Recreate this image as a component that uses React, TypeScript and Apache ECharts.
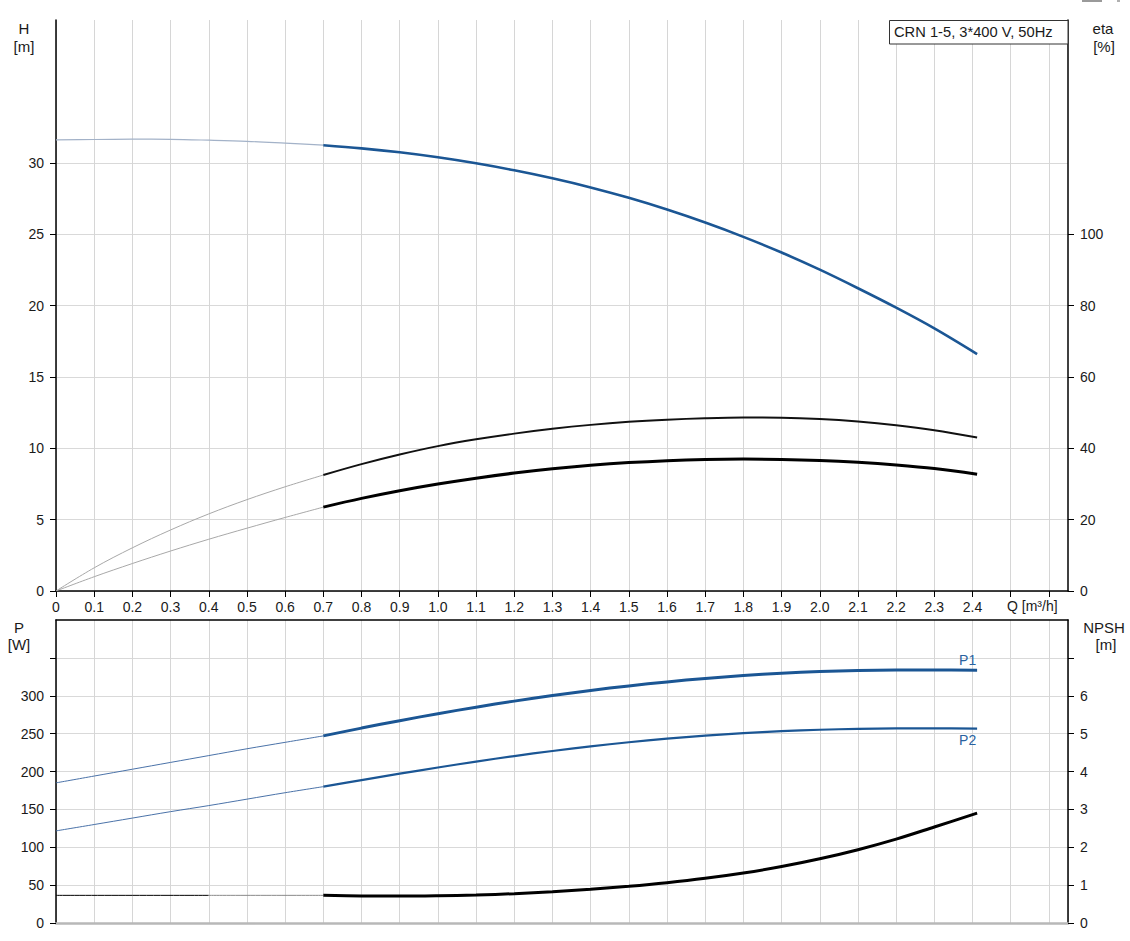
import React, { useEffect, useRef } from "react";
import * as echarts from "echarts";

// ---- data ----
const qLow = [0, 0.1, 0.2, 0.3, 0.4, 0.5, 0.6, 0.7];
const qHigh = [0.7, 0.8, 0.9, 1.0, 1.1, 1.2, 1.3, 1.4, 1.5, 1.6, 1.7, 1.8, 1.9, 2.0, 2.1, 2.2, 2.3, 2.412];

const hLow = [31.6, 31.63, 31.65, 31.64, 31.58, 31.5, 31.37, 31.23];
const hHigh = [31.23, 31.01, 30.73, 30.38, 29.96, 29.47, 28.91, 28.27, 27.54, 26.72, 25.81, 24.81, 23.71, 22.51, 21.21, 19.85, 18.4, 16.6];

const etaLow = [0, 6.5, 12.1, 17.1, 21.6, 25.6, 29.2, 32.5];
const etaHigh = [32.5, 35.55, 38.25, 40.6, 42.5, 44.1, 45.45, 46.55, 47.4, 48.0, 48.4, 48.6, 48.55, 48.2, 47.5, 46.45, 45.05, 43.0];

const eta2Low = [0, 4.0, 7.7, 11.2, 14.5, 17.6, 20.6, 23.5];
const eta2High = [23.5, 25.95, 28.1, 29.98, 31.62, 33.04, 34.24, 35.22, 35.98, 36.52, 36.85, 36.97, 36.88, 36.58, 36.05, 35.3, 34.3, 32.7];

const p1Low = [185, 194, 203, 212, 221, 230, 238.5, 247];
const p1High = [247, 257.3, 267.1, 276.3, 284.9, 292.9, 300.3, 307.0, 313.0, 318.3, 322.9, 326.7, 329.7, 331.9, 333.3, 334.0, 334.1, 333.7];

const p2Low = [121.6, 130, 138.5, 147, 155, 163.5, 172, 180];
const p2High = [180, 188.6, 197.1, 205.3, 213.1, 220.4, 227.1, 233.2, 238.6, 243.3, 247.3, 250.6, 253.2, 255.1, 256.3, 256.9, 257.0, 256.7];

const qNpshA = [0, 0.4];
const npshA = [0.73, 0.73];
const qNpshB = [0.4, 0.7];
const npshB = [0.73, 0.73];
const npshHigh = [0.73, 0.715, 0.71, 0.72, 0.74, 0.775, 0.825, 0.89, 0.97, 1.065, 1.18, 1.32, 1.49, 1.695, 1.935, 2.215, 2.535, 2.9];

const qTickLabels = ["0", "0.1", "0.2", "0.3", "0.4", "0.5", "0.6", "0.7", "0.8", "0.9", "1.0", "1.1", "1.2", "1.3", "1.4", "1.5", "1.6", "1.7", "1.8", "1.9", "2.0", "2.1", "2.2", "2.3", "2.4"];
const qTickMarks = [0, 0.1, 0.2, 0.3, 0.4, 0.5, 0.6, 0.7, 0.8, 0.9, 1.0, 1.1, 1.2, 1.3, 1.4, 1.5, 1.6, 1.7, 1.8, 1.9, 2.0, 2.1, 2.2, 2.3, 2.4, 2.5, 2.6];
const hTickLabels = [0, 5, 10, 15, 20, 25, 30];
const etaTickLabels = [0, 20, 40, 60, 80, 100];
const pTickLabels = [0, 50, 100, 150, 200, 250, 300];
const pTickMarks = [0, 50, 100, 150, 200, 250, 300, 350];
const npshTickLabels = [0, 1, 2, 3, 4, 5, 6];
const npshTickMarks = [0, 1, 2, 3, 4, 5, 6, 7];

const FONT = "'Liberation Sans', Arial, sans-serif";
const BLUE = "#1b5694";

function line(xs: number[], ys: number[], xi: number, yi: number, color: string, width: number, extra: any = {}) {
  return {
    type: "line",
    xAxisIndex: xi,
    yAxisIndex: yi,
    data: xs.map((x, i) => [x, ys[i]]),
    symbol: "none",
    showSymbol: false,
    smooth: 0.35,
    silent: true,
    lineStyle: { color, width },
    ...extra,
  };
}

export default function App() {
  const ref = useRef<HTMLDivElement>(null);
  useEffect(() => {
    if (!ref.current) return;
    const chart = echarts.init(ref.current, null, { renderer: "svg" });
    const labelStyle = { color: "#1a1a1a", fontSize: 14, fontFamily: FONT };
    const xBase = {
      type: "value",
      min: 0,
      max: 2.65,
      interval: 0.1,
    };
    const nameStyle = (text: string, x: number, y: number) => ({
      type: "text",
      x,
      y,
      style: { text, fill: "#1a1a1a", font: `15px ${FONT}`, align: "center", verticalAlign: "middle" },
    });
    const option: any = {
      animation: false,
      backgroundColor: "#ffffff",
      textStyle: { fontFamily: FONT },
      grid: [
        { left: 56, top: 20, width: 1012, height: 571 },
        { left: 56, top: 620, width: 1012, height: 303 },
      ],
      xAxis: [
        {
          ...xBase,
          gridIndex: 0,
          position: "bottom",
          axisLine: { show: true, onZero: false, lineStyle: { color: "#000", width: 1.5 } },
          axisTick: { show: true, length: 6, lineStyle: { color: "#000" }, customValues: qTickMarks },
          axisLabel: {
            ...labelStyle,
            margin: 9,
            customValues: qTickLabels.map((s) => parseFloat(s)),
            formatter: (v: number) => {
              const i = qTickLabels.findIndex((s) => Math.abs(parseFloat(s) - v) < 1e-6);
              return i >= 0 ? qTickLabels[i] : "";
            },
          },
          splitLine: { show: true, lineStyle: { color: "#d6d6d6", width: 1 } },
        },
        {
          ...xBase,
          gridIndex: 1,
          position: "bottom",
          axisLine: { show: true, onZero: false, lineStyle: { color: "#b8b8b8", width: 2.5 } },
          axisTick: { show: false },
          axisLabel: { show: false },
          splitLine: { show: true, lineStyle: { color: "#d6d6d6", width: 1 } },
        },
        {
          ...xBase,
          gridIndex: 1,
          position: "top",
          axisLine: { show: true, onZero: false, lineStyle: { color: "#000", width: 1.5 } },
          axisTick: { show: false },
          axisLabel: { show: false },
          splitLine: { show: false },
        },
      ],
      yAxis: [
        {
          type: "value",
          gridIndex: 0,
          position: "left",
          min: 0,
          max: 40,
          interval: 5,
          axisLine: { show: true, onZero: false, lineStyle: { color: "#000", width: 1.5 } },
          axisTick: { show: true, length: 6, lineStyle: { color: "#000" }, customValues: hTickLabels },
          axisLabel: { ...labelStyle, margin: 12, customValues: hTickLabels },
          splitLine: { show: true, lineStyle: { color: "#d9d9d9", width: 1 } },
        },
        {
          type: "value",
          gridIndex: 0,
          position: "right",
          min: 0,
          max: 160,
          interval: 20,
          axisLine: { show: true, onZero: false, lineStyle: { color: "#000", width: 1.5 } },
          axisTick: { show: true, length: 6, lineStyle: { color: "#000" }, customValues: etaTickLabels },
          axisLabel: { ...labelStyle, margin: 12, customValues: etaTickLabels },
          splitLine: { show: false },
        },
        {
          type: "value",
          gridIndex: 1,
          position: "left",
          min: 0,
          max: 400,
          interval: 50,
          axisLine: { show: true, onZero: false, lineStyle: { color: "#000", width: 1.5 } },
          axisTick: { show: true, length: 6, lineStyle: { color: "#000" }, customValues: pTickMarks },
          axisLabel: { ...labelStyle, margin: 12, customValues: pTickLabels },
          splitLine: { show: true, lineStyle: { color: "#d9d9d9", width: 1 } },
        },
        {
          type: "value",
          gridIndex: 1,
          position: "right",
          min: 0,
          max: 8,
          interval: 1,
          axisLine: { show: true, onZero: false, lineStyle: { color: "#000", width: 1.5 } },
          axisTick: { show: true, length: 6, lineStyle: { color: "#000" }, customValues: npshTickMarks },
          axisLabel: { ...labelStyle, margin: 12, customValues: npshTickLabels },
          splitLine: { show: false },
        },
      ],
      series: [
        line(qLow, hLow, 0, 0, "#a3b2c8", 1.2),
        line(qHigh, hHigh, 0, 0, BLUE, 2.6),
        line(qLow, etaLow, 0, 1, "#a8a8a8", 1),
        line(qHigh, etaHigh, 0, 1, "#111", 2),
        line(qLow, eta2Low, 0, 1, "#a8a8a8", 1),
        line(qHigh, eta2High, 0, 1, "#000", 3),
        line(qLow, p1Low, 1, 2, "#4a72a8", 1),
        line(qHigh, p1High, 1, 2, BLUE, 3, {
          endLabel: { show: true, formatter: "P1", color: "#2a62a0", fontSize: 14, fontFamily: FONT, offset: [-26, -10] },
        }),
        line(qLow, p2Low, 1, 2, "#4a72a8", 1),
        line(qHigh, p2High, 1, 2, BLUE, 2.2, {
          endLabel: { show: true, formatter: "P2", color: "#2a62a0", fontSize: 14, fontFamily: FONT, offset: [-26, 11] },
        }),
        line(qNpshA, npshA, 1, 3, "#000", 1),
        line(qNpshB, npshB, 1, 3, "#8a8a8a", 1),
        line(qHigh, npshHigh, 1, 3, "#000", 3),
      ],
      graphic: [
        nameStyle("H", 24, 28),
        nameStyle("[m]", 24, 46),
        nameStyle("eta", 1103, 28),
        nameStyle("[%]", 1104, 46),
        nameStyle("P", 19, 627),
        nameStyle("[W]", 19, 644),
        nameStyle("NPSH", 1104, 627),
        nameStyle("[m]", 1106, 644),
        { type: "text", x: 1007, y: 606, style: { text: "Q [m³/h]", fill: "#1a1a1a", font: `14px ${FONT}`, align: "left", verticalAlign: "middle" } },
        {
          type: "rect",
          shape: { x: 889.5, y: 20.5, width: 178.5, height: 23.5 },
          style: { fill: "#fff", stroke: "#333", lineWidth: 1 },
          z: 100,
        },
        { type: "text", x: 894, y: 32, z: 101, style: { text: "CRN 1-5, 3*400 V, 50Hz", fill: "#1a1a1a", font: `14.7px ${FONT}`, align: "left", verticalAlign: "middle" } },
        { type: "rect", shape: { x: 1082, y: 0, width: 20, height: 2 }, style: { fill: "#9a9a9a" } },
        { type: "rect", shape: { x: 1117, y: 0, width: 3, height: 2 }, style: { fill: "#b0b0b0" } },
      ],
    };
    chart.setOption(option);
    return () => chart.dispose();
  }, []);
  return (
    <div
      ref={ref}
      style={{ position: "fixed", left: 0, top: 0, width: 1130, height: 941, background: "#fff" }}
    />
  );
}
